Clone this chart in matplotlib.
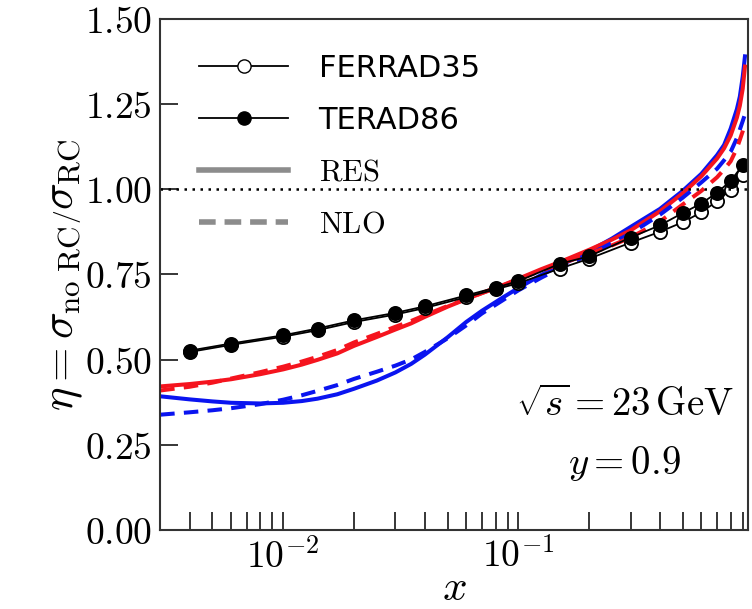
import numpy as np
import matplotlib
matplotlib.use("Agg")
import matplotlib.pyplot as plt
from matplotlib.lines import Line2D

plt.rcParams["mathtext.fontset"] = "cm"

# generator points (FERRAD35 open, TERAD86 filled)
x_pts = [0.004, 0.006, 0.01, 0.014, 0.02, 0.03, 0.04, 0.06, 0.08, 0.1,
         0.15, 0.2, 0.3, 0.4, 0.5, 0.6, 0.7, 0.8, 0.9]
ferrad35 = [0.522, 0.543, 0.567, 0.586, 0.610, 0.632, 0.651, 0.683, 0.706, 0.724,
            0.767, 0.796, 0.843, 0.875, 0.903, 0.932, 0.965, 0.999, 1.041]
terad86 = [0.526, 0.547, 0.571, 0.591, 0.615, 0.637, 0.656, 0.688, 0.711, 0.730,
           0.781, 0.803, 0.858, 0.894, 0.930, 0.958, 0.990, 1.024, 1.071]

x_cur = [0.003, 0.004, 0.005, 0.006, 0.008, 0.01, 0.012, 0.014, 0.017, 0.02,
         0.025, 0.03, 0.035, 0.04, 0.05, 0.06, 0.07, 0.085, 0.1, 0.125,
         0.15, 0.2, 0.25, 0.3, 0.4, 0.5, 0.6, 0.7, 0.75, 0.8,
         0.85, 0.875, 0.9, 0.92]
red_res = [0.421, 0.428, 0.435, 0.442, 0.457, 0.471, 0.485, 0.499, 0.518, 0.540,
           0.566, 0.588, 0.606, 0.625, 0.655, 0.677, 0.695, 0.717, 0.737, 0.765,
           0.786, 0.822, 0.852, 0.879, 0.935, 0.988, 1.038, 1.090, 1.120, 1.158,
           1.210, 1.245, 1.295, 1.360]
red_nlo = [0.409, 0.420, 0.432, 0.444, 0.463, 0.479, 0.494, 0.508, 0.528, 0.550,
           0.575, 0.596, 0.613, 0.630, 0.657, 0.678, 0.695, 0.716, 0.735, 0.761,
           0.780, 0.810, 0.835, 0.858, 0.905, 0.955, 0.995, 1.035, 1.058, 1.082,
           1.120, 1.145, 1.170, 1.195]
blue_res = [0.392, 0.383, 0.377, 0.373, 0.371, 0.373, 0.378, 0.385, 0.398, 0.414,
            0.438, 0.462, 0.487, 0.514, 0.565, 0.610, 0.643, 0.680, 0.710, 0.748,
            0.775, 0.818, 0.855, 0.889, 0.942, 0.995, 1.045, 1.100, 1.130, 1.178,
            1.235, 1.272, 1.330, 1.390]
blue_nlo = [0.338, 0.345, 0.351, 0.357, 0.369, 0.382, 0.395, 0.408, 0.425, 0.443,
            0.464, 0.482, 0.500, 0.522, 0.562, 0.600, 0.635, 0.672, 0.703, 0.740,
            0.768, 0.808, 0.842, 0.870, 0.925, 0.975, 1.020, 1.060, 1.085, 1.110,
            1.150, 1.175, 1.200, 1.220]

y_ticks = [0.0, 0.25, 0.5, 0.75, 1.0, 1.25, 1.5]
x_major = [0.01, 0.1]
x_major_labels = [r"$10^{-2}$", r"$10^{-1}$"]

BLUE = "#0a14f0"
RED = "#f5141e"

fig = plt.figure(figsize=(7.52, 6.09), dpi=100)
ax = fig.add_axes([0.213, 0.130, 0.782, 0.839])

ax.plot(x_cur, blue_res, color=BLUE, lw=2.9)
ax.plot(x_cur, red_res, color=RED, lw=2.9)
ax.plot(x_cur, blue_nlo, color=BLUE, lw=2.9, ls=(0, (3.6, 2.3)))
ax.plot(x_cur, red_nlo, color=RED, lw=2.9, ls=(0, (3.6, 2.3)))

ax.plot(x_pts, ferrad35, color="black", lw=1.3, marker="o", ms=9.5,
        mfc="white", mec="black", mew=1.3)
ax.plot(x_pts, terad86, color="black", lw=1.3, marker="o", ms=9.5,
        mfc="black", mec="black", mew=1.3)

ax.axhline(1.0, color="black", ls=(0, (1, 2.2)), lw=1.8)

ax.set_xscale("log")
ax.set_xlim(0.003, 0.95)
ax.set_ylim(0, 1.5)
ax.set_xticks(x_major, x_major_labels)
ax.set_yticks(y_ticks, [rf"$\mathrm{{{v:.2f}}}$" for v in y_ticks])

ax.tick_params(which="both", direction="in", length=13, width=1.1,
               labelsize=27, top=False, right=False)
ax.tick_params(axis="x", which="major", pad=6)
ax.tick_params(axis="y", pad=6)
for s in ax.spines.values():
    s.set_linewidth(1.5)
    s.set_color("#333333")

ax.set_xlabel(r"$x$", fontsize=31, labelpad=-6)
ax.set_ylabel(r"$\eta = \sigma_{\rm no\ RC}\left/\sigma_{\rm RC}\right.$",
              fontsize=32, labelpad=0)

ax.text(0.79, 0.245, r"$\sqrt{s} = 23\,\mathrm{GeV}$", transform=ax.transAxes,
        fontsize=28, ha="center", va="center")
ax.text(0.79, 0.13, r"$y = 0.9$", transform=ax.transAxes,
        fontsize=28, ha="center", va="center")

handles = [
    Line2D([], [], color="black", lw=1.3, marker="o", ms=9.5, mfc="white", mec="black"),
    Line2D([], [], color="black", lw=1.3, marker="o", ms=9.5, mfc="black", mec="black"),
    Line2D([], [], color="#8c8c8c", lw=4),
    Line2D([], [], color="#8c8c8c", lw=4, ls=(0, (3, 1.6))),
]
labels = ["FERRAD35", "TERAD86", r"$\mathrm{RES}$", r"$\mathrm{NLO}$"]
ax.legend(handles, labels, loc="upper left", bbox_to_anchor=(0.02, 0.985),
          frameon=False, fontsize=22, handlelength=2.9, handletextpad=1.0,
          labelspacing=0.75)

fig.savefig("out.png", dpi=100)
